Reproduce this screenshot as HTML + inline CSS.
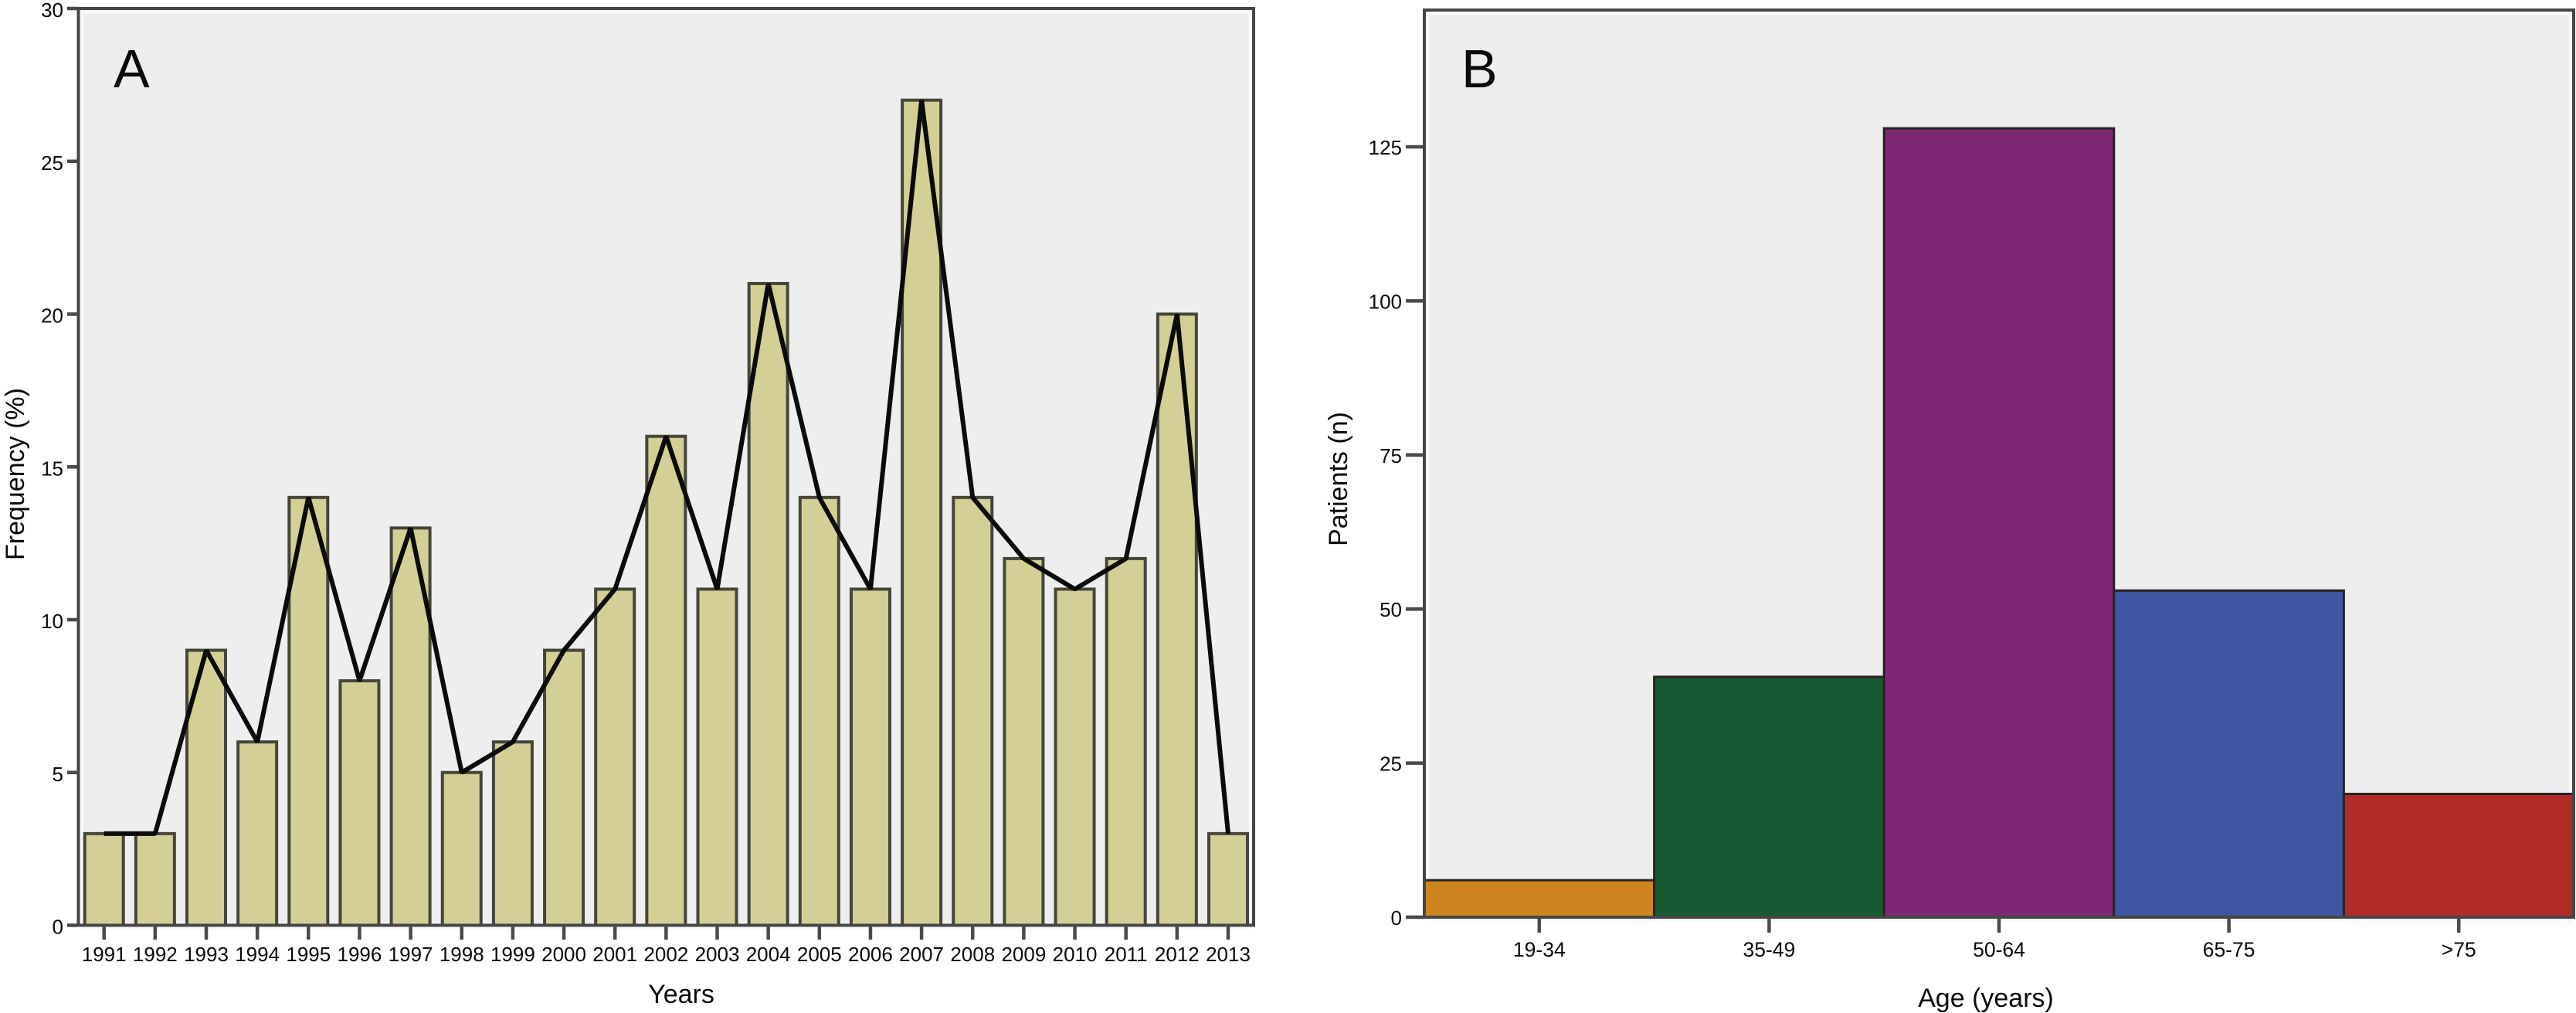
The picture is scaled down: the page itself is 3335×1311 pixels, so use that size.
<!DOCTYPE html>
<html lang="en">
<head>
<meta charset="utf-8">
<title>Frequency by year and patients by age group</title>
<style>
html,body{margin:0;padding:0;background:#fff;width:3335px;height:1311px;overflow:hidden}
svg{display:block}
text{font-family:"Liberation Sans",Arial,sans-serif;fill:#0a0a0a}
</style>
</head>
<body>
<svg id="figure" xmlns="http://www.w3.org/2000/svg" width="3335" height="1311" viewBox="0 0 3335 1311">
  <g id="panel-a">
    <rect x="101.5" y="11" width="1521.5" height="1186.5" fill="#eeeeee"/>
    <rect x="106" y="15.5" width="1512.5" height="1186" fill="none" stroke="#f8f8f8" stroke-width="4"/>
    <g id="a-bars"></g>
    <g id="a-line"></g>
    <rect x="101.5" y="11" width="1521.5" height="1186.5" fill="none" stroke="#464646" stroke-width="4"/>
    <g id="a-yticks"></g>
    <g id="a-xticks"></g>
    <text x="147" y="113" font-size="70">A</text>
    <text transform="translate(31,613.5) rotate(-90)" text-anchor="middle" font-size="34">Frequency (%)</text>
    <text x="882" y="1298" text-anchor="middle" font-size="34">Years</text>
  </g>
  <g id="panel-b">
    <rect x="1844" y="13" width="1488" height="1174" fill="#eeeeee"/>
    <rect x="1848.5" y="17.5" width="1479" height="1174" fill="none" stroke="#f8f8f8" stroke-width="4"/>
    <g id="b-bars"></g>
    <rect x="1844" y="13" width="1488" height="1174" fill="none" stroke="#464646" stroke-width="4"/>
    <g id="b-yticks"></g>
    <g id="b-xticks"></g>
    <text x="1892" y="113" font-size="70">B</text>
    <text transform="translate(1744,620) rotate(-90)" text-anchor="middle" font-size="34">Patients (n)</text>
    <text x="2571" y="1303" text-anchor="middle" font-size="34">Age (years)</text>
  </g>
</svg>
<script>
const yearCategories = ["1991","1992","1993","1994","1995","1996","1997","1998","1999","2000","2001","2002","2003","2004","2005","2006","2007","2008","2009","2010","2011","2012","2013"];
const frequencyValues = [3,3,9,6,14,8,13,5,6,9,11,16,11,21,14,11,27,14,12,11,12,20,3];
const frequencyTicks = [0,5,10,15,20,25,30];
const ageCategories = ["19-34","35-49","50-64","65-75",">75"];
const patientValues = [6,39,128,53,20];
const patientTicks = [0,25,50,75,100,125];
const ageColors = ["#cd861f","#155a30","#7c2875","#3f57a3","#b32b29"];

const NS = "http://www.w3.org/2000/svg";
function node(tag, parent, props) {
  const el = document.createElementNS(NS, tag);
  for (const k in props) el.setAttribute(k, props[k]);
  parent.appendChild(el);
  return el;
}

/* Panel A axis functions */
const aX = i => 134.7 + i * (1590 - 134.7) / (yearCategories.length - 1);
const aY = v => 1197.5 - v * (1197.5 - 11) / 30;
const aBarWidth = 50;

/* Panel B axis functions */
const bBand = (3332 - 1844) / ageCategories.length;
const bX = i => 1844 + i * bBand;
const bY = v => 1187 - v * (1187 - 190) / 125;

const aBars = document.getElementById("a-bars");
frequencyValues.forEach((v, i) => {
  const r = node("rect", aBars, {x: aX(i) - aBarWidth / 2, y: aY(v), width: aBarWidth, height: aY(0) - aY(v), fill: "#d4cf94", stroke: "#45453a", "stroke-width": 4});
  
  
});

const aLine = document.getElementById("a-line");
const linePath = node("polyline", aLine, {points: frequencyValues.map((v, i) => aX(i) + "," + aY(v)).join(" "), fill: "none", stroke: "#0b0b0b", "stroke-width": 6, "stroke-linejoin": "bevel"});



const aYTicks = document.getElementById("a-yticks");
frequencyTicks.forEach(t => {
  const l = node("line", aYTicks, {x1: 87, x2: 101, y1: aY(t), y2: aY(t), stroke: "#4a4a4a", "stroke-width": 4.5});
  
  
  const s = node("text", aYTicks, {x: 82, y: aY(t) + 11, "text-anchor": "end", "font-size": 26});
  
  
  s.textContent = t;
});

const aXTicks = document.getElementById("a-xticks");
yearCategories.forEach((c, i) => {
  const l = node("line", aXTicks, {x1: aX(i), x2: aX(i), y1: 1198, y2: 1216, stroke: "#4a4a4a", "stroke-width": 4.5});
  
  
  const s = node("text", aXTicks, {x: aX(i), y: 1244, "text-anchor": "middle", "font-size": 26});
  
  
  s.textContent = c;
});

const bBars = document.getElementById("b-bars");
patientValues.forEach((v, i) => {
  const r = node("rect", bBars, {x: bX(i), y: bY(v), width: bBand, height: bY(0) - bY(v), fill: ageColors[i], stroke: "#2a2222", "stroke-width": 3});
  
  
});

const bYTicks = document.getElementById("b-yticks");
patientTicks.forEach(t => {
  const l = node("line", bYTicks, {x1: 1820, x2: 1844, y1: bY(t), y2: bY(t), stroke: "#4a4a4a", "stroke-width": 4.5});
  
  
  const s = node("text", bYTicks, {x: 1815, y: bY(t) + 10, "text-anchor": "end", "font-size": 26});
  
  
  s.textContent = t;
});

const bXTicks = document.getElementById("b-xticks");
ageCategories.forEach((c, i) => {
  const cx = bX(i) + bBand / 2;
  const l = node("line", bXTicks, {x1: cx, x2: cx, y1: 1188, y2: 1207, stroke: "#4a4a4a", "stroke-width": 4.5});
  
  
  const s = node("text", bXTicks, {x: cx, y: 1238, "text-anchor": "middle", "font-size": 26.5});
  
  
  s.textContent = c;
});
</script>
</body>
</html>
